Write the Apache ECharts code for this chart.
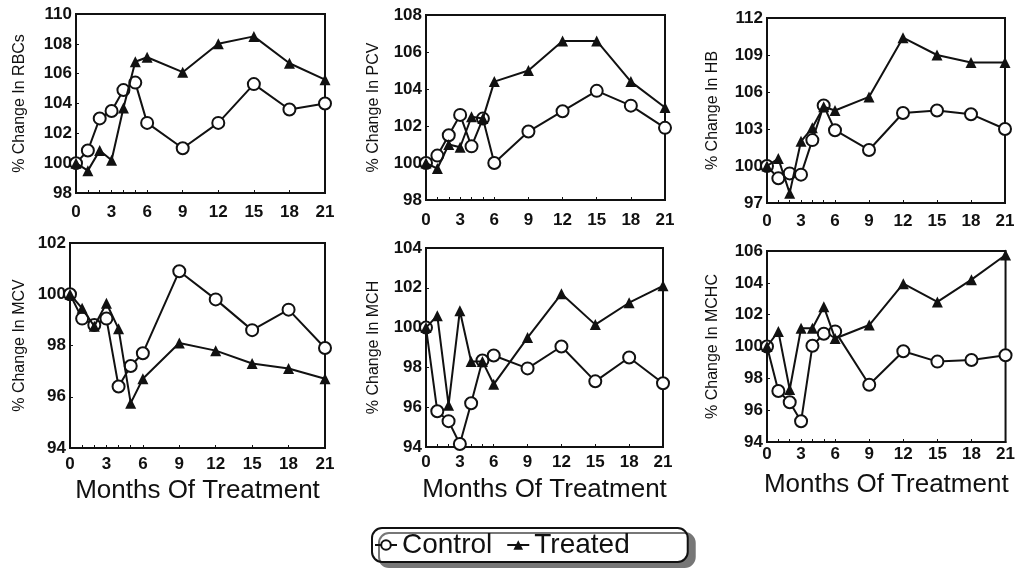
<!DOCTYPE html>
<html>
<head>
<meta charset="utf-8">
<script src="https://cdn.jsdelivr.net/npm/echarts@6/dist/echarts.min.js"></script>
<style>
  html, body { margin: 0; padding: 0; background: #fff; }
  #chart { width: 1018px; height: 579px; }
</style>
</head>
<body>
<div id="chart"></div>
<script>
// months when the samples were taken
var months = [0, 1, 2, 3, 4, 5, 6, 9, 12, 15, 18, 21];
var monthTicks = [0, 3, 6, 9, 12, 15, 18, 21];

// % change
var rbcControl = [100, 100.85, 103.0, 103.5, 104.9, 105.4, 102.7, 101.0, 102.7, 105.3, 103.6, 104.0];
var rbcTreated = [100, 99.5, 100.85, 100.2, 103.7, 106.8, 107.1, 106.1, 108.0, 108.5, 106.7, 105.6];
var rbcTicks = [98, 100, 102, 104, 106, 108, 110];

var pcvControl = [100, 100.4, 101.5, 102.6, 100.9, 102.4, 100.0, 101.7, 102.8, 103.9, 103.1, 101.9];
var pcvTreated = [100, 99.7, 101.0, 100.85, 102.5, 102.4, 104.4, 105.0, 106.6, 106.6, 104.4, 103.0];
var pcvTicks = [98, 100, 102, 104, 106, 108];

var hbControl = [100, 99.0, 99.4, 99.3, 102.1, 104.9, 102.9, 101.3, 104.3, 104.5, 104.2, 103.0];
var hbTreated = [100, 100.6, 97.8, 102.0, 103.1, 104.8, 104.5, 105.6, 110.4, 109.0, 108.4, 108.4];
var hbTicks = [97, 100, 103, 106, 109, 112];

var mcvControl = [100, 99.05, 98.8, 99.05, 96.4, 97.2, 97.7, 100.9, 99.8, 98.6, 99.4, 97.9];
var mcvTreated = [100, 99.45, 98.75, 99.65, 98.65, 95.75, 96.7, 98.1, 97.8, 97.3, 97.1, 96.7];
var mcvTicks = [94, 96, 98, 100, 102];

var mchControl = [100, 95.8, 95.3, 94.15, 96.2, 98.35, 98.6, 97.95, 99.05, 97.3, 98.5, 97.2];
var mchTreated = [100, 100.6, 96.1, 100.85, 98.3, 98.3, 97.15, 99.5, 101.7, 100.15, 101.25, 102.1];
var mchTicks = [94, 96, 98, 100, 102, 104];

var mchcControl = [100, 97.2, 96.5, 95.3, 100.05, 100.8, 100.95, 97.6, 99.7, 99.05, 99.15, 99.45];
var mchcTreated = [100, 100.95, 97.3, 101.15, 101.15, 102.5, 100.5, 101.35, 103.95, 102.8, 104.2, 105.75];
var mchcTicks = [94, 96, 98, 100, 102, 104, 106];

// xm: label distance below the x axis line
var panels = [
  { name: "% Change In RBCs", ticks: rbcTicks, control: rbcControl, treated: rbcTreated,
    box: { left: 76, top: 14, width: 249, height: 179 }, gap: 48, xm: 11, bottom: false },
  { name: "% Change In PCV", ticks: pcvTicks, control: pcvControl, treated: pcvTreated,
    box: { left: 426, top: 15, width: 239, height: 185 }, gap: 44, xm: 12, bottom: false },
  { name: "% Change In HB", ticks: hbTicks, control: hbControl, treated: hbTreated,
    box: { left: 767, top: 18, width: 238, height: 185 }, gap: 46, xm: 10, bottom: false },
  { name: "% Change In MCV", ticks: mcvTicks, control: mcvControl, treated: mcvTreated,
    box: { left: 70, top: 243, width: 255, height: 205 }, gap: 42, xm: 8, bottom: true },
  { name: "% Change In MCH", ticks: mchTicks, control: mchControl, treated: mchTreated,
    box: { left: 426, top: 248, width: 237, height: 199 }, gap: 44, xm: 7, bottom: true },
  { name: "% Change In MCHC", ticks: mchcTicks, control: mchcControl, treated: mchcTreated,
    box: { left: 767, top: 251, width: 241, height: 191 }, gap: 46, xm: 4, bottom: true }
];

function pairs(vals) {
  return months.map(function (m, i) { return [m, vals[i]]; });
}

var grids = [], xAxes = [], yAxes = [], series = [];
var ink = "#111";
var font = "Arial, 'Liberation Sans', sans-serif";

panels.forEach(function (p, i) {
  grids.push({
    left: p.box.left, top: p.box.top, width: p.box.width, height: p.box.height,
    show: true, borderColor: ink, borderWidth: 2, backgroundColor: "transparent"
  });
  xAxes.push({
    type: "value", gridIndex: i,
    min: 0, max: 21,
    axisLine: { show: true, onZero: false, lineStyle: { color: ink, width: 2 } },
    axisTick: { show: true, inside: true, length: 3, customValues: months, lineStyle: { color: ink } },
    axisLabel: {
      customValues: monthTicks,
      color: ink, fontSize: 17, fontWeight: "bold", fontFamily: font, margin: p.xm
    },
    splitLine: { show: false },
    name: p.bottom ? "Months Of Treatment" : "",
    nameLocation: "middle", nameGap: 30,
    nameTextStyle: { color: ink, fontSize: 26, fontFamily: font }
  });
  yAxes.push({
    type: "value", gridIndex: i,
    min: p.ticks[0], max: p.ticks[p.ticks.length - 1],
    axisLine: { show: true, onZero: false, lineStyle: { color: ink, width: 2 } },
    axisTick: { show: true, inside: true, length: 3, customValues: p.ticks, lineStyle: { color: ink } },
    axisLabel: {
      customValues: p.ticks,
      color: ink, fontSize: 17, fontWeight: "bold", fontFamily: font, margin: 4
    },
    splitLine: { show: false },
    name: p.name, nameLocation: "middle", nameGap: p.gap,
    nameTextStyle: { color: ink, fontSize: 16, fontFamily: font }
  });
  series.push({
    name: "Control", type: "line", xAxisIndex: i, yAxisIndex: i,
    data: pairs(p.control),
    symbol: "emptyCircle", symbolSize: 12,
    lineStyle: { color: ink, width: 2 },
    itemStyle: { color: ink, borderWidth: 1.5 },
    z: 3
  });
  series.push({
    name: "Treated", type: "line", xAxisIndex: i, yAxisIndex: i,
    data: pairs(p.treated),
    symbol: "triangle", symbolSize: 11,
    lineStyle: { color: ink, width: 2 },
    itemStyle: { color: ink },
    z: 4
  });
});

var chart = echarts.init(document.getElementById("chart"));
chart.setOption({
  backgroundColor: "#fff",
  animation: false,
  grid: grids,
  xAxis: xAxes,
  yAxis: yAxes,
  series: series,
  legend: {
    data: ["Control", "Treated"],
    left: 372, top: 528,
    padding: [3, 58, 3, 2],
    itemWidth: 22, itemHeight: 12, itemGap: 14,
    borderColor: ink, borderWidth: 2, borderRadius: 10,
    backgroundColor: "#fff",
    shadowColor: "#777", shadowOffsetX: 7, shadowOffsetY: 5, shadowBlur: 0,
    textStyle: { color: ink, fontSize: 28, fontFamily: font }
  }
});
</script>
</body>
</html>
